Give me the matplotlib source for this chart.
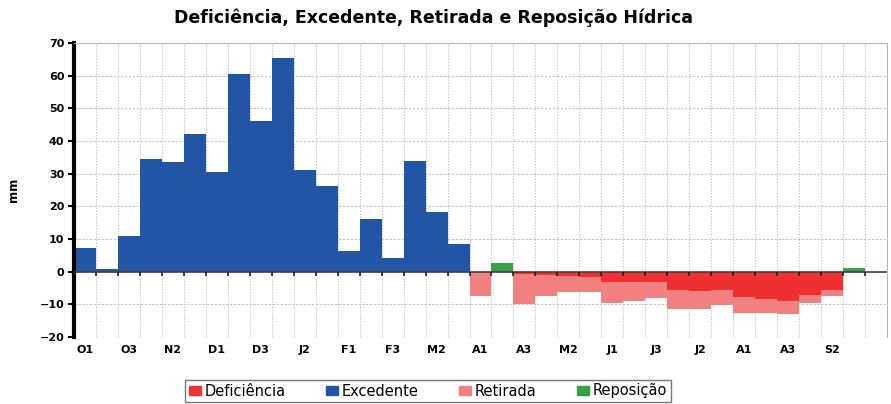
import matplotlib
matplotlib.use("Agg")
import matplotlib.pyplot as plt
from matplotlib.patches import Patch
import numpy as np

plt.rcParams['font.family'] = ['DejaVu Sans']

periods = ["O1","O2","O3","N1","N2","N3","D1","D2","D3","J1","J2","J3",
           "F1","F2","F3","M1","M2","M3","A1","A2","A3","M1","M2","M3",
           "J1","J2","J3","J1","J2","J3","A1","A2","A3","S1","S2","S3"]

excedente = [7.3, 0.7, 10.9, 34.4, 33.5, 42.1, 30.6, 60.5, 46.1, 65.5, 31.0, 26.3,
             6.4, 16.1, 4.3, 33.9, 18.3, 8.6, 0, 0, 0, 0, 0, 0,
             0, 0, 0, 0, 0, 0, 0, 0, 0, 0, 0, 0]
deficiencia = [0]*18 + [0, 0, 0.8, 1.0, 1.3, 1.5, 3.1, 3.3, 3.3, 5.5, 6.0, 5.7,
                        7.8, 8.4, 9.1, 7.1, 5.7, 0]
retirada = [0]*18 + [7.5, 0, 9.2, 6.3, 4.8, 4.7, 6.5, 5.8, 4.8, 5.9, 5.4, 4.6,
                     5.0, 4.2, 4.0, 2.6, 1.9, 0]
reposicao = [0]*18 + [0, 2.5, 0, 0, 0, 0, 0, 0, 0, 0, 0, 0,
                      0, 0, 0, 0, 0, 1.0]

c_def = "#EE3030"
c_exc = "#2255A4"
c_ret = "#F38080"
c_rep = "#38A048"

fig = plt.figure(figsize=(8.91, 4.04), dpi=100)
ax = fig.add_axes([74/891, 1-337/404, (887-74)/891, (337-43)/404])

x = np.arange(len(periods))
d = np.array(deficiencia)
ax.bar(x, excedente, width=1, align='edge', color=c_exc, zorder=2)
ax.bar(x, -d, width=1, align='edge', color=c_def, zorder=2)
ax.bar(x, -np.array(retirada), bottom=-d, width=1, align='edge', color=c_ret, zorder=2)
ax.bar(x, reposicao, width=1, align='edge', color=c_rep, zorder=2)

ax.set_xlim(0, 37)
ax.set_ylim(-20, 70)
ax.set_yticks(np.arange(-20, 71, 10))
ax.set_xticks(np.arange(0, 38), minor=True)
ax.set_xticks(np.arange(0, 36, 2) + 0.5)
ax.set_xticklabels(periods[0::2], fontsize=8, fontweight='bold')
for lbl in ax.get_yticklabels():
    lbl.set_fontsize(8)
    lbl.set_fontweight('bold')
ax.tick_params(axis='x', which='major', length=0, pad=6)
ax.tick_params(axis='x', which='minor', length=0)
ax.tick_params(axis='y', length=4, width=1.5, pad=3, color='black')

ax.grid(True, which='minor', axis='x', color='#C4C4C4', linestyle=(0, (1.5, 1.5)), linewidth=0.7, zorder=1)
ax.grid(True, which='major', axis='y', color='#C4C4C4', linestyle=(0, (2.5, 1.5)), linewidth=0.7, zorder=1)

ax.axhline(0, color='#404040', linewidth=1.2, zorder=3)
# small tick marks below the zero line
ax.plot(np.arange(0, 37), np.zeros(37), linestyle='none', marker=3,
        markersize=3, color='#202020', markeredgewidth=1.2, zorder=3)

ax.spines['left'].set_linewidth(3)
ax.spines['left'].set_color('black')
ax.spines['bottom'].set_visible(False)
ax.spines['top'].set_color('#B8B8B8')
ax.spines['right'].set_color('#B8B8B8')

ax.set_ylabel("mm", fontsize=8.5, fontweight='bold', labelpad=14)
fig.text(433/891, 1-18/404, "Deficiência, Excedente, Retirada e Reposição Hídrica",
         ha='center', va='center', fontsize=12.5, fontweight='bold')

handles = [Patch(color=c_def, label="Deficiência"),
           Patch(color=c_exc, label="Excedente"),
           Patch(color=c_ret, label="Retirada"),
           Patch(color=c_rep, label="Reposição")]
leg = fig.legend(handles=handles, loc='center', bbox_to_anchor=(428/891, 1-391/404),
                 ncol=4, fontsize=10.5, frameon=True, fancybox=False,
                 handlelength=0.8, handleheight=0.6, handletextpad=0.25,
                 columnspacing=2.8, borderpad=0.25, borderaxespad=0)
leg.get_frame().set_edgecolor('#555555')
leg.get_frame().set_linewidth(1)

fig.savefig("out.png", dpi=100)
